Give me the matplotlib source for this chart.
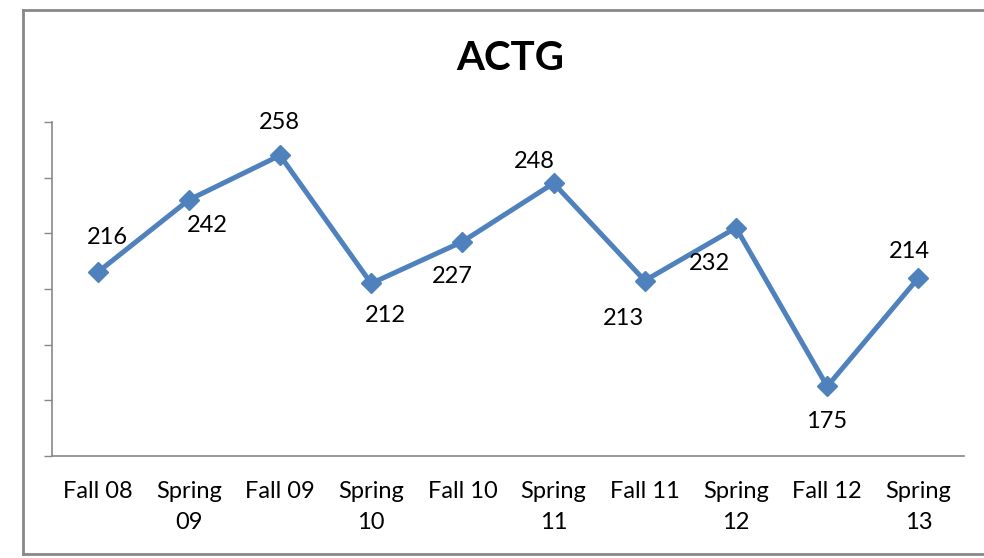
import matplotlib
matplotlib.use("Agg")
import matplotlib.pyplot as plt
from matplotlib.lines import Line2D

categories = ["Fall 08", "Spring\n09", "Fall 09", "Spring\n10", "Fall 10",
              "Spring\n11", "Fall 11", "Spring\n12", "Fall 12", "Spring\n13"]
values = [216, 242, 258, 212, 227, 248, 213, 232, 175, 214]
# label placement offsets in pixels (dx, dy; positive dy = down)
label_offsets = [(10, -35), (19, 26), (-1, -33), (14, 32), (-10, 35),
                 (-19, -22), (-21, 38), (-27, 36), (-1, 35), (-9, -26)]

plt.rcParams['font.family'] = ['Lato', 'DejaVu Sans']

W, H = 984, 558
fig = plt.figure(figsize=(W / 100, H / 100), dpi=100)

# outer chart border (top, left, bottom; right edge cropped)
bc = "#888888"
fig.add_artist(Line2D([23 / W, 23 / W], [1 - 10 / H, 1 - 554 / H], color=bc, lw=2.0, transform=fig.transFigure))
fig.add_artist(Line2D([23 / W, 1.01], [1 - 10 / H, 1 - 10 / H], color=bc, lw=2.0, transform=fig.transFigure))
fig.add_artist(Line2D([23 / W, 1.01], [1 - 554 / H, 1 - 554 / H], color=bc, lw=2.0, transform=fig.transFigure))

ax = fig.add_axes([52 / W, 1 - 456 / H, (964 - 52) / W, (456 - 122) / H])
x = list(range(len(categories)))
color = "#4F81BD"
ax.plot(x, values, color=color, lw=3.6, marker="D", markersize=10, zorder=3, clip_on=False)

ax.set_xlim(-0.5, len(categories) - 0.5)
ax.set_ylim(150, 270)
ax.set_yticks(range(150, 271, 20))
ax.set_yticklabels([])
ax.tick_params(axis="y", direction="out", length=6, color="#888888", width=1)
ax.set_xticks(x)
ax.set_xticklabels(categories, fontsize=17, linespacing=1.6, va="top")
ax.tick_params(axis="x", length=0, pad=18)

for s in ["top", "right"]:
    ax.spines[s].set_visible(False)
for s in ["left", "bottom"]:
    ax.spines[s].set_color("#888888")
    ax.spines[s].set_linewidth(1.2)

for xi, v, (dx, dy) in zip(x, values, label_offsets):
    ax.annotate(str(v), (xi, v), xytext=(dx * 0.72, -dy * 0.72), textcoords="offset points",
                ha="center", va="center", fontsize=17)

fig.text(510 / W, 1 - 58 / H, "ACTG", ha="center", va="center", fontsize=29, fontweight="bold")

fig.savefig("out.png", dpi=100)
